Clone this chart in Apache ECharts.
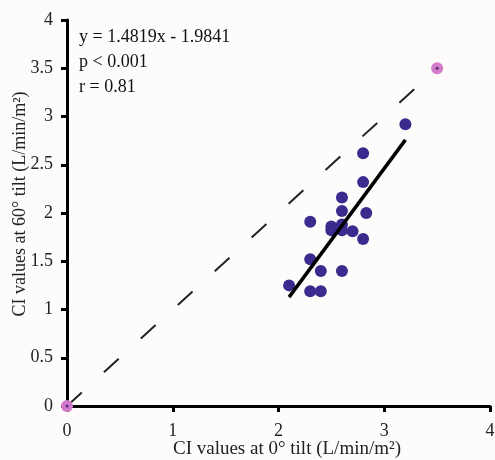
<!DOCTYPE html>
<html>
<head>
<meta charset="utf-8">
<script src="https://cdn.jsdelivr.net/npm/echarts@6/dist/echarts.min.js"></script>
<style>
html,body{margin:0;padding:0;background:#fefcfb;}
#chart{width:495px;height:460px;}
</style>
</head>
<body>
<div id="chart"></div>
<script>
// Patient data: CI at 0° tilt (x) vs CI at 60° tilt (y)
const ciAt0 = [3.2, 2.8, 2.8, 2.6, 2.6, 2.83, 2.3, 2.5, 2.5, 2.6, 2.6, 2.7, 2.8, 2.3, 2.4, 2.6, 2.1, 2.3, 2.4];
const ciAt60 = [2.92, 2.62, 2.32, 2.16, 2.02, 2.0, 1.91, 1.86, 1.82, 1.88, 1.82, 1.81, 1.73, 1.52, 1.40, 1.40, 1.25, 1.19, 1.19];
// Reference markers
const refX = [0, 3.5];
const refY = [0, 3.5];
// Identity line endpoints
const identityX = [0, 3.3];
// Regression
const slope = 1.4819, intercept = -1.9841;
const regX = [2.1, 3.2];
const xTicks = [0, 1, 2, 3, 4];
const yTicks = [0, 0.5, 1, 1.5, 2, 2.5, 3, 3.5, 4];
const statLines = ['y = 1.4819x - 1.9841', 'p < 0.001', 'r = 0.81'];
const xTitle = 'CI values at 0° tilt (L/min/m²)';
const yTitle = 'CI values at 60° tilt (L/min/m²)';

const font = 'Liberation Serif';
const chart = echarts.init(document.getElementById('chart'));
chart.setOption({
  backgroundColor: '#fefcfb',
  animation: false,
  grid: {left: 67, right: 5, top: 20, bottom: 54, containLabel: false, outerBoundsMode: 'none'},
  xAxis: {
    type: 'value', min: 0, max: 4, interval: 1,
    axisLine: {lineStyle: {color: '#000', width: 3}},
    axisTick: {show: true, length: 6, lineStyle: {color: '#000', width: 3}},
    axisLabel: {color: '#222', fontFamily: font, fontSize: 18, margin: 16,
      formatter: v => xTicks.includes(v) ? String(v) : ''},
    splitLine: {show: false}
  },
  yAxis: {
    type: 'value', min: 0, max: 4, interval: 0.5,
    axisLine: {lineStyle: {color: '#000', width: 3}},
    axisTick: {show: true, length: 6, lineStyle: {color: '#000', width: 3}},
    axisLabel: {color: '#222', fontFamily: font, fontSize: 18, margin: 14,
      formatter: v => yTicks.includes(v) ? String(v) : ''},
    splitLine: {show: false}
  },
  graphic: statLines.map((t, i) => ({
    type: 'text', left: 79, top: 28 + i * 25,
    style: {text: t, fill: '#111', font: '18px "Liberation Serif"'}
  })).concat([
    {
      type: 'text', x: 287, y: 449,
      style: {text: xTitle, fill: '#222', font: '19px "Liberation Serif"', align: 'center', verticalAlign: 'middle'}
    },
    {
      type: 'text', x: 20, y: 204, rotation: Math.PI / 2,
      style: {text: yTitle, fill: '#222', font: '18px "Liberation Serif"', align: 'center', verticalAlign: 'middle'}
    }
  ]),
  series: [
    {
      type: 'line', data: identityX.map(v => [v, v]), symbol: 'none',
      lineStyle: {color: '#222', width: 2, type: [20, 30]}, z: 1
    },
    {
      type: 'line', data: regX.map(v => [v, slope * v + intercept]), symbol: 'none',
      lineStyle: {color: '#000', width: 3.5}, z: 3
    },
    {
      type: 'scatter', data: ciAt0.map((v, i) => [v, ciAt60[i]]),
      symbolSize: 12, itemStyle: {color: '#3d2a8e', opacity: 1}, z: 2
    },
    {
      type: 'scatter', data: refX.map((v, i) => [v, refY[i]]),
      symbolSize: 12, itemStyle: {color: '#d27bcb', opacity: 1}, z: 4
    },
    {
      type: 'scatter', data: refX.map((v, i) => [v, refY[i]]),
      symbolSize: 3, itemStyle: {color: '#5a2a7a', opacity: 1}, z: 5, silent: true
    }
  ]
});
</script>
</body>
</html>
